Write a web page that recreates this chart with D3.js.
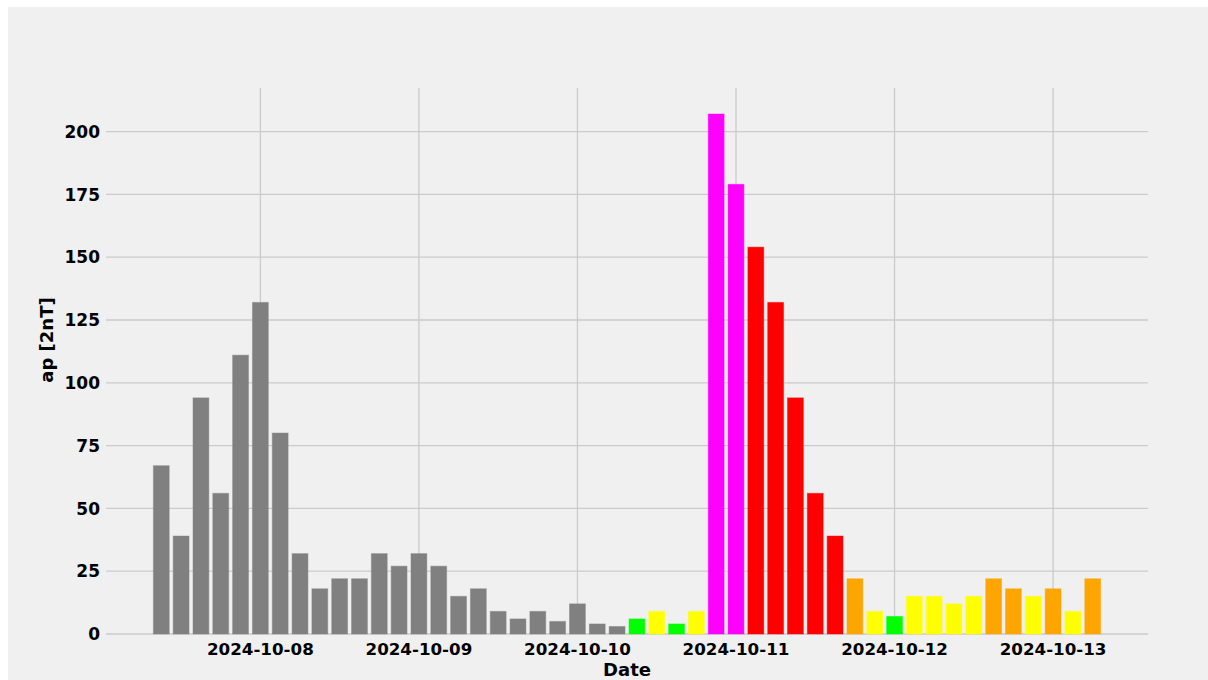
<!DOCTYPE html>
<html>
<head>
<meta charset="utf-8">
<script src="https://cdn.jsdelivr.net/npm/d3@7"></script>
<style>
  body { margin: 0; background: #ffffff; }
  svg { display: block; }
</style>
</head>
<body>
<div id="ap-chart"></div>
<script>
// 3-hourly ap index, 2024-10-07 09:00 UTC onwards

const startTime = "2024-10-07T09:00:00Z";

const apValues = [
    67, 39, 94, 56, 111, 132, 80, 32,
    18, 22, 22, 32, 27, 32, 27, 15,
    18, 9, 6, 9, 5, 12, 4, 3,
    6, 9, 4, 9, 207, 179, 154, 132,
    94, 56, 39, 22, 9, 7, 15, 15,
    12, 15, 22, 18, 15, 18, 9, 22
];

const apLevels = [
    "obs", "obs", "obs", "obs", "obs", "obs", "obs", "obs",
    "obs", "obs", "obs", "obs", "obs", "obs", "obs", "obs",
    "obs", "obs", "obs", "obs", "obs", "obs", "obs", "obs",
    "quiet", "unsettled", "quiet", "unsettled", "severe", "severe", "storm", "storm",
    "storm", "storm", "storm", "active", "unsettled", "quiet", "unsettled", "unsettled",
    "unsettled", "unsettled", "active", "active", "unsettled", "active", "unsettled", "active"
];

const yTicks = [0, 25, 50, 75, 100, 125, 150, 175, 200];
const xTickDates = ["2024-10-08", "2024-10-09", "2024-10-10", "2024-10-11", "2024-10-12", "2024-10-13"];

const levelColor = {
    obs: "#808080",
    quiet: "#00ff00",
    unsettled: "#ffff00",
    active: "#ffa500",
    storm: "#ff0000",
    severe: "#ff00ff"
};

const W = 1208, H = 680;
const plot = { left: 106, right: 1148, top: 88, bottom: 634 };
const fontFam = "'DejaVu Sans', sans-serif";

const hour = 3600 * 1000;
const t0 = new Date(startTime).getTime();
const times = apValues.map((v, i) => new Date(t0 + i * 3 * hour));

// bar width 0.8 of the 3h step, 5% margins like matplotlib
const halfBar = 1.2 * hour;
const lo = times[0].getTime() - halfBar;
const hi = times[times.length - 1].getTime() + halfBar;
const pad = (hi - lo) * 0.05;

const x = d3.scaleTime()
    .domain([new Date(lo - pad), new Date(hi + pad)])
    .range([plot.left, plot.right]);

const yMax = d3.max(apValues) * 1.05;
const y = d3.scaleLinear()
    .domain([0, yMax])
    .range([plot.bottom, plot.top]);

const svg = d3.select("#ap-chart")
    .append("svg")
    .attr("width", W)
    .attr("height", H);

// figure background
svg.append("rect")
    .attr("x", 8).attr("y", 7)
    .attr("width", W - 8).attr("height", H - 7)
    .attr("fill", "#f0f0f0");

// grid
svg.append("g")
    .selectAll("line")
    .data(yTicks)
    .join("line")
    .attr("x1", plot.left).attr("x2", plot.right)
    .attr("y1", d => y(d)).attr("y2", d => y(d))
    .attr("stroke", "#cbcbcb")
    .attr("stroke-width", 1.3);

const xTicks = xTickDates.map(d => new Date(d + "T00:00:00Z"));

svg.append("g")
    .selectAll("line")
    .data(xTicks)
    .join("line")
    .attr("x1", d => x(d)).attr("x2", d => x(d))
    .attr("y1", plot.top).attr("y2", plot.bottom)
    .attr("stroke", "#cbcbcb")
    .attr("stroke-width", 1.3);

// bars
const barW = x(new Date(t0 + 2 * halfBar)) - x(new Date(t0));

svg.append("g")
    .selectAll("rect")
    .data(apValues)
    .join("rect")
    .attr("x", (d, i) => x(times[i]) - barW / 2)
    .attr("y", d => y(d))
    .attr("width", barW)
    .attr("height", d => y(0) - y(d))
    .attr("fill", (d, i) => levelColor[apLevels[i]])
    .attr("stroke", (d, i) => levelColor[apLevels[i]])
    .attr("stroke-opacity", 0.45)
    .attr("stroke-width", 1);

// y tick labels
svg.append("g")
    .selectAll("text")
    .data(yTicks)
    .join("text")
    .attr("x", 100)
    .attr("y", d => y(d))
    .attr("dy", "0.36em")
    .attr("text-anchor", "end")
    .style("font-family", fontFam)
    .style("font-weight", "bold")
    .style("font-size", "17px")
    .text(d => d);

// x tick labels
svg.append("g")
    .selectAll("text")
    .data(xTicks)
    .join("text")
    .attr("x", d => x(d))
    .attr("y", 655)
    .attr("text-anchor", "middle")
    .style("font-family", fontFam)
    .style("font-weight", "bold")
    .style("font-size", "16.7px")
    .text(d => d3.utcFormat("%Y-%m-%d")(d));

// axis labels
svg.append("text")
    .attr("x", (plot.left + plot.right) / 2)
    .attr("y", 676)
    .attr("text-anchor", "middle")
    .style("font-family", fontFam)
    .style("font-weight", "bold")
    .style("font-size", "18px")
    .text("Date");

svg.append("text")
    .attr("transform", "translate(53,340) rotate(-90)")
    .attr("text-anchor", "middle")
    .style("font-family", fontFam)
    .style("font-weight", "bold")
    .style("font-size", "18px")
    .text("ap [2nT]");
</script>
</body>
</html>
